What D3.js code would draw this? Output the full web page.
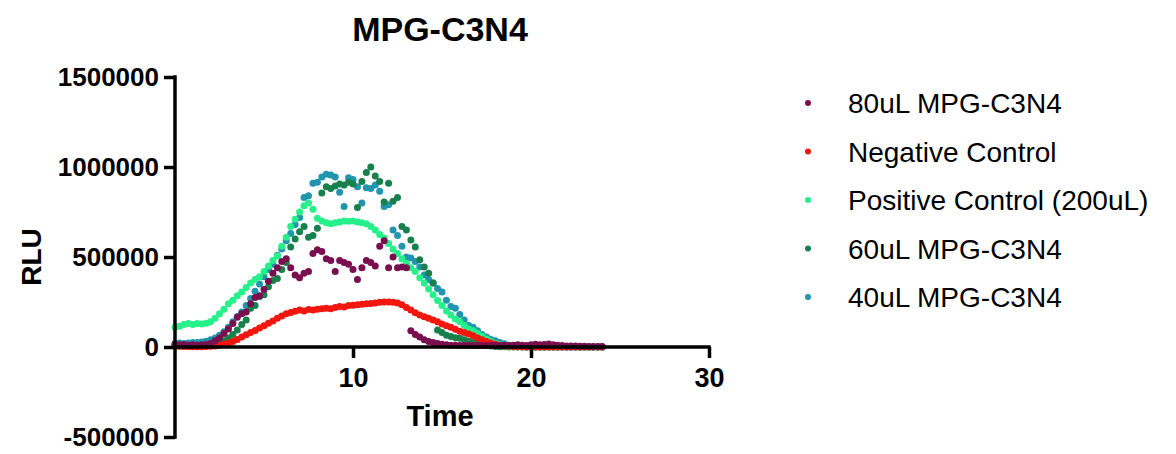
<!DOCTYPE html>
<html>
<head>
<meta charset="utf-8">
<script src="https://cdn.jsdelivr.net/npm/d3@7"></script>
<style>
  body { margin: 0; background: #fff; }
  svg { font-family: "Liberation Sans", Arial, Helvetica, sans-serif; }
  .axis path, .axis line { stroke: #000; stroke-width: 3.5px; }
  .axis text { fill: #000; font-weight: bold; font-size: 26px; }
</style>
</head>
<body>
<svg id="chart"></svg>
<script>
// sample times (minutes), one reading every 0.25
var times = d3.range(0, 24.001, 0.25);

// RLU readings, one per time
var p80 = [15000,12000,14000,10000,12000,10000,12000,14000,20000,35000,
  50000,75000,100000,130000,165000,185000,195000,240000,275000,285000,
  320000,365000,410000,440000,475000,490000,440000,400000,385000,410000,
  420000,520000,540000,530000,490000,480000,420000,480000,470000,460000,
  430000,375000,440000,480000,470000,450000,560000,590000,440000,500000,
  440000,445000,440000,90000,70000,55000,40000,30000,25000,20000,
  15000,12000,10000,10000,9000,9000,8000,8000,8000,8000,
  8000,8000,8000,9000,10000,9000,10000,12000,10000,9000,
  12000,15000,12000,14000,16000,12000,10000,8000,6000,5000,
  5000,4000,4000,3000,3000,3000,3000];

var negCtrl = [5000,4000,3000,3000,2000,2000,2000,3000,4000,6000,
  10000,15000,22000,30000,42000,55000,68000,80000,92000,105000,
  118000,132000,145000,160000,172000,185000,192000,198000,205000,200000,
  208000,205000,210000,212000,215000,213000,220000,225000,222000,230000,
  232000,235000,238000,240000,242000,245000,248000,250000,250000,248000,
  245000,235000,220000,205000,190000,178000,168000,160000,150000,140000,
  128000,118000,110000,98000,88000,80000,72000,62000,50000,40000,
  30000,22000,15000,10000,6000,4000,3000,2000,1000,0,
  0,0,0,0,0,0,0,0,0,0,
  0,0,0,0,0,0,0];

var posCtrl = [110000,115000,125000,130000,125000,130000,128000,132000,140000,160000,
  185000,210000,240000,260000,285000,305000,330000,355000,375000,390000,
  420000,450000,480000,505000,560000,610000,670000,710000,750000,785000,
  800000,765000,715000,700000,690000,685000,690000,695000,700000,698000,
  700000,695000,690000,685000,670000,650000,625000,605000,575000,545000,
  520000,490000,465000,440000,420000,385000,355000,322000,290000,258000,
  230000,200000,178000,155000,140000,120000,100000,90000,75000,60000,
  45000,30000,20000,12000,6000,3000,2000,1000,1000,0,
  0,0,0,0,0,0,0,0,0,0,
  0,0,0,0,0,0,0];

var p60 = [5000,5000,4000,5000,6000,6000,8000,10000,12000,18000,
  25000,35000,50000,70000,95000,125000,150000,215000,230000,280000,
  290000,335000,370000,380000,430000,470000,555000,600000,640000,670000,
  610000,620000,660000,855000,890000,880000,895000,905000,900000,915000,
  905000,775000,920000,970000,1000000,950000,920000,805000,910000,810000,
  830000,670000,650000,595000,555000,485000,445000,410000,355000,95000,
  80000,65000,58000,52000,48000,40000,32000,25000,18000,12000,
  8000,5000,3000,2000,1000,0,0,0,0,0,
  0,0,0,0,0,0,0,0,0,0,
  0,0,0,0,0,0,0];

var p40 = [20000,22000,20000,22000,25000,25000,28000,32000,40000,50000,
  65000,85000,110000,140000,170000,195000,230000,270000,310000,350000,
  390000,430000,460000,510000,545000,590000,630000,680000,720000,830000,
  840000,910000,915000,945000,960000,955000,945000,860000,780000,940000,
  930000,890000,800000,885000,880000,900000,865000,780000,790000,650000,
  620000,560000,500000,495000,475000,445000,400000,375000,355000,325000,
  305000,260000,225000,215000,180000,150000,120000,110000,90000,70000,
  55000,42000,35000,25000,18000,10000,6000,3000,1000,0,
  0,0,0,0,0,0,0,0,0,0,
  0,0,0,0,0,0,0];

var seriesNames = ["80uL MPG-C3N4", "Negative Control", "Positive Control (200uL)", "60uL MPG-C3N4", "40uL MPG-C3N4"];
var seriesValues = [p80, negCtrl, posCtrl, p60, p40];
var seriesColors = ["#7a0f50", "#f2160e", "#26f08a", "#17804c", "#2194ae"];

var xTicks = [10, 20, 30];
var yTicks = [-500000, 0, 500000, 1000000, 1500000];

var width = 1176, height = 454;
var svg = d3.select("#chart").attr("width", width).attr("height", height);

// scales
var x = d3.scaleLinear().domain([0, 30]).range([175, 709]);
var y = d3.scaleLinear().domain([-500000, 1500000]).range([437, 77]);

// title
svg.append("text")
    .attr("x", 440).attr("y", 41)
    .attr("text-anchor", "middle")
    .style("font-size", "34px").style("font-weight", "bold")
    .text("MPG-C3N4");

// points, drawn last-first so the first series sits on top
var data = seriesNames.map(function(name, i) {
  return { name: name, color: seriesColors[i],
           values: times.map(function(t, j) { return { t: t, v: seriesValues[i][j] }; }) };
});

var gPts = svg.append("g");
data.slice().reverse().forEach(function(s) {
  gPts.append("g").selectAll("circle")
    .data(s.values)
    .enter().append("circle")
    .attr("cx", function(d) { return x(d.t); })
    .attr("cy", function(d) { return y(d.v); })
    .attr("r", 3.5)
    .attr("fill", s.color);
});

// axes
var xAxis = svg.append("g")
    .attr("class", "axis")
    .attr("transform", "translate(0," + y(0) + ")")
    .call(d3.axisBottom(x).tickValues(xTicks).tickSize(11).tickPadding(10).tickSizeOuter(0));
xAxis.select(".domain").attr("d", "M" + (x(0) - 1.75) + ",0H" + (x(30) + 1.75));
xAxis.selectAll("text").style("font-size", "27px");

var yAxis = svg.append("g")
    .attr("class", "axis")
    .attr("transform", "translate(" + x(0) + ",0)")
    .call(d3.axisLeft(y).tickValues(yTicks).tickSize(11).tickPadding(5).tickSizeOuter(0)
      .tickFormat(function(d) { return String(d); }));
yAxis.select(".domain").attr("d", "M0," + (y(1500000) - 1.75) + "V" + (y(-500000) + 1.75));

// axis titles
svg.append("text")
    .attr("x", 440).attr("y", 426)
    .attr("text-anchor", "middle")
    .style("font-size", "29px").style("font-weight", "bold")
    .text("Time");

svg.append("text")
    .attr("transform", "translate(41,257) rotate(-90)")
    .attr("text-anchor", "middle")
    .style("font-size", "28px").style("font-weight", "bold")
    .text("RLU");

// legend
var legend = svg.append("g").attr("transform", "translate(808,103)");
var rows = legend.selectAll("g").data(data).enter().append("g")
    .attr("transform", function(d, i) { return "translate(0," + (i * 48.5) + ")"; });
rows.append("circle").attr("r", 3).attr("fill", function(d) { return d.color; });
rows.append("text")
    .attr("x", 40).attr("dy", "0.36em")
    .style("font-size", "28px")
    .text(function(d) { return d.name; });
</script>
</body>
</html>
